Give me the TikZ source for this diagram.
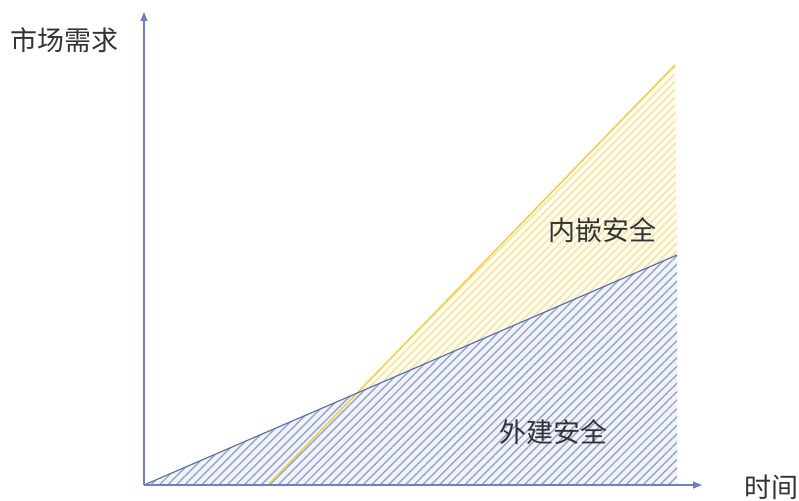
\documentclass[tikz,border=0pt]{standalone}
\usepackage{fontspec}
\newfontfamily\cjk{Noto Sans CJK SC}
\usetikzlibrary{patterns.meta,arrows.meta}
\definecolor{axisblue}{HTML}{6F80C0}
\definecolor{lineblue}{HTML}{5F72A8}
\definecolor{hatchblue}{HTML}{97A5C8}
\definecolor{fillblue}{HTML}{F0F3FA}
\definecolor{lineyellow}{HTML}{EDCF4E}
\definecolor{hatchyellow}{HTML}{F3E4A6}
\definecolor{fillyellow}{HTML}{FFFCEE}
\definecolor{txt}{HTML}{333333}
\tikzset{
  lbl/.style={font=\cjk\fontsize{27}{32}\selectfont, text=txt, inner sep=0pt},
  axis/.style={draw=axisblue, line width=1.2pt, -{Triangle[length=9pt,width=7pt]}},
}
\begin{document}
\begin{tikzpicture}[x=1pt,y=-1pt]
\useasboundingbox (0,0) rectangle (799,500);
\coordinate (O) at (144,485);
\coordinate (Ytop) at (144,12);
\coordinate (Xend) at (702,485);
\coordinate (B) at (677,255);
\coordinate (Ys) at (268,485);
\coordinate (Ye) at (675,65);
\coordinate (Bb) at (677,485);
\coordinate (I) at (360,391.5);
% yellow region between lines
\fill[fillyellow] (I) -- (Ye) -- (B) -- cycle;
\path[pattern={Lines[angle=45,distance=5.5pt,line width=1.5pt]}, pattern color=hatchyellow] (I) -- (Ye) -- (B) -- cycle;
% blue region
\fill[fillblue] (O) -- (B) -- (Bb) -- cycle;
\path[pattern={Lines[angle=45,distance=6pt,line width=1.4pt]}, pattern color=hatchblue] (O) -- (B) -- (Bb) -- cycle;
% lines
\draw[lineyellow, line width=1.5pt] (Ys) -- (Ye);
\draw[lineblue, line width=1.2pt] (O) -- (B);
% axes
\draw[axis] (O) -- (Ytop);
\draw[axis] (O) -- (Xend);
% labels
\node[lbl] (ylab) at (64,40) {市场需求};
\node[lbl] (xlab) at (771,487) {时间};
\node[lbl] (inner) at (602,230) {内嵌安全};
\node[lbl] (outer) at (553,432) {外建安全};
\end{tikzpicture}
\end{document}
